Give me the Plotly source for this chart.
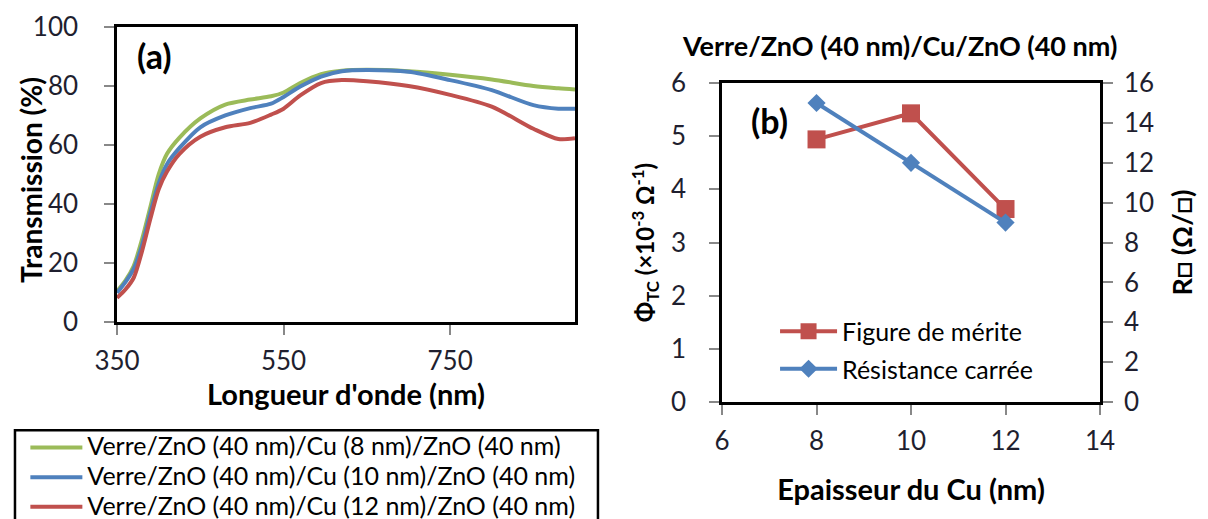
import plotly.graph_objects as go

# ---------------- data ----------------
wavelength = [350, 360, 370, 380, 390, 400, 410, 425, 450, 480, 510, 535, 550,
              570, 595, 620, 650, 700, 750, 800, 850, 880, 900]
t_cu8 = [10.4, 14, 19, 28, 39, 50, 57, 62.5, 69, 73.7, 75.4, 76.5, 77.8,
         81, 84, 85.2, 85.5, 85, 83.8, 82.2, 80, 79.2, 78.8]
t_cu10 = [9.9, 13.5, 18, 26, 37, 47, 53.5, 59, 66, 70, 72.5, 74, 76.3,
          79.8, 83.2, 85, 85.4, 84.8, 82, 78.6, 73.5, 72.3, 72.3]
t_cu12 = [8.2, 11, 15, 24, 35, 45, 51, 57, 62.8, 66, 67.5, 70.3, 72.3,
          76.8, 81, 82, 81.6, 80, 77, 73, 65.5, 62, 62.3]
series_a_names = ["Verre/ZnO (40 nm)/Cu (8 nm)/ZnO (40 nm)",
                  "Verre/ZnO (40 nm)/Cu (10 nm)/ZnO (40 nm)",
                  "Verre/ZnO (40 nm)/Cu (12 nm)/ZnO (40 nm)"]

cu_thickness = [8, 10, 12]
figure_merite = [4.94, 5.43, 3.63]
resistance_carree = [15.0, 12.0, 9.0]

GREEN = "#9BBB59"
BLUE = "#4F81BD"
RED = "#C0504D"
FONT = "Lato"
TICKCOL = "#1f1f2f"

fig = go.Figure()

for name, vals, col in zip(series_a_names, [t_cu8, t_cu10, t_cu12], [GREEN, BLUE, RED]):
    fig.add_trace(go.Scatter(x=wavelength, y=vals, mode="lines",
                             name=f"<span style='font-size:25px'>{name}</span>",
                             line=dict(color=col, width=4, shape="spline", smoothing=0.8),
                             xaxis="x", yaxis="y", legend="legend"))

fig.add_trace(go.Scatter(x=cu_thickness, y=figure_merite, mode="lines+markers",
                         name="Figure de mérite", legendgroup="fm",
                         line=dict(color=RED, width=4),
                         marker=dict(symbol="square", size=18, color=RED),
                         xaxis="x2", yaxis="y2", legend="legend2"))
fig.add_trace(go.Scatter(x=cu_thickness, y=resistance_carree, mode="lines+markers",
                         name="Résistance carrée", legendgroup="rc",
                         line=dict(color=BLUE, width=4),
                         marker=dict(symbol="diamond", size=14, color=BLUE),
                         xaxis="x2", yaxis="y3", legend="legend2"))

axis_common = dict(showline=True, linecolor="black", linewidth=2.5,
                   ticks="outside", ticklen=10, tickcolor="#888", tickwidth=1.5,
                   showgrid=False, zeroline=False, automargin=False,
                   tickfont=dict(family=FONT, size=26, color=TICKCOL))

fig.update_layout(
    width=1208, height=519,
    margin=dict(l=0, r=0, t=0, b=0, autoexpand=False),
    paper_bgcolor="white", plot_bgcolor="white",
    font=dict(family=FONT, color="black"),
    xaxis=dict(domain=[0.0969, 0.476], range=[350, 900], tickvals=[350, 550, 750],
               mirror=True, anchor="y", ticklabelstandoff=4,
               title=dict(text="<b>Longueur d'onde (nm)</b>", font=dict(family=FONT, size=29), standoff=2),
               **axis_common),
    yaxis=dict(domain=[0.3796, 0.948], range=[0, 100], dtick=20, mirror=True, anchor="x",
               ticklabelstandoff=21,
               **axis_common),
    xaxis2=dict(domain=[0.5977, 0.9106], range=[6, 14], dtick=2, mirror=True, anchor="y2",
                ticklabelstandoff=4,
                title=dict(text="<b>Epaisseur du Cu (nm)</b>", font=dict(family=FONT, size=29), standoff=25),
                **axis_common),
    yaxis2=dict(domain=[0.2254, 0.840], range=[0, 6], dtick=1, anchor="x2",
                ticklabelstandoff=18,
                title=dict(text="<b>Φ<sub>TC</sub> (×10<sup>-3</sup> Ω<sup>-1</sup>)</b>",
                           font=dict(family=FONT, size=24), standoff=10),
                **axis_common),
    yaxis3=dict(range=[0, 16], dtick=2, anchor="x2", overlaying="y2", side="right",
                ticklabelstandoff=6,
                title=dict(text="<b>R□ (Ω/□)</b>", font=dict(family=FONT, size=27), standoff=20),
                **axis_common),
    legend=dict(x=0.021, y=0.176, xanchor="left", yanchor="top",
                bgcolor="rgba(0,0,0,0)", borderwidth=0,
                font=dict(family=FONT, size=20.5, color="black"),
                tracegroupgap=0, itemwidth=52),
    legend2=dict(x=0.6416, y=0.3256, xanchor="left", yanchor="middle",
                 bgcolor="rgba(0,0,0,0)", borderwidth=0,
                 font=dict(family=FONT, size=25, color="black"),
                 tracegroupgap=2, itemwidth=57),
    showlegend=True,
    shapes=[dict(type="rect", xref="paper", yref="paper",
                 x0=0.0124, x1=0.495, y0=-0.2, y1=0.171,
                 line=dict(color="black", width=2.5), fillcolor="rgba(0,0,0,0)")],
    annotations=[
        dict(text="<b>Transmission (%)</b>", xref="paper", yref="paper",
             x=31 / 1208, y=1 - 180 / 519, xanchor="center", yanchor="middle",
             textangle=-90, showarrow=False, font=dict(family=FONT, size=28, color="black")),
        dict(text="<b>(a)</b>", xref="paper", yref="paper", x=0.128, y=0.894,
             xanchor="center", yanchor="middle",
             showarrow=False, font=dict(family=FONT, size=34, color="black")),
        dict(text="<b>(b)</b>", xref="paper", yref="paper", x=0.637, y=0.767,
             xanchor="center", yanchor="middle",
             showarrow=False, font=dict(family=FONT, size=34, color="black")),
        dict(text="<b>Verre/ZnO (40 nm)/Cu/ZnO (40 nm)</b>", xref="paper", yref="paper",
             x=0.745, y=0.913, xanchor="center", yanchor="middle", showarrow=False,
             font=dict(family=FONT, size=27, color="black")),
    ],
)

fig.write_html("out.html", config={"displayModeBar": False},
               post_script="document.body.style.margin='0px';document.body.style.overflow='hidden';")
